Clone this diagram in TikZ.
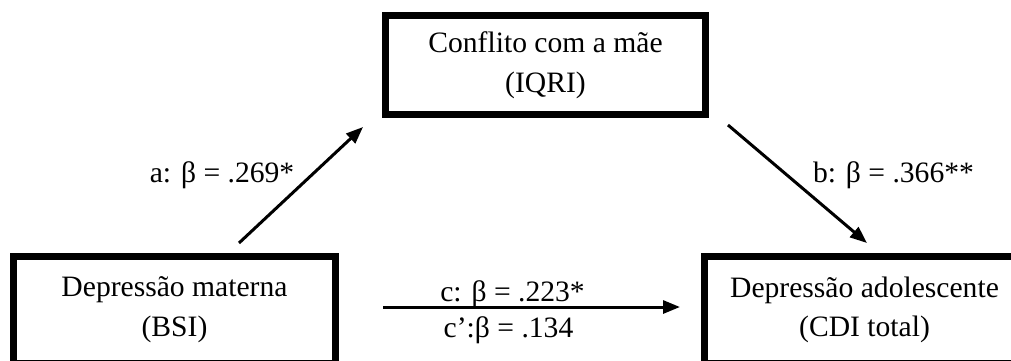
\documentclass[tikz,border=0pt]{standalone}
\usepackage{fontspec}
\setmainfont{Liberation Serif}
\usetikzlibrary{arrows.meta}
\begin{document}
\begin{tikzpicture}[x=1pt,y=-1pt,
  every node/.style={font=\fontsize{29.6}{39.5}\selectfont},
  varbox/.style={draw, line width=7pt, align=center, inner sep=0pt,
                 minimum width=320pt, minimum height=#1},
  effect/.style={line width=3pt, -{Triangle[length=17pt,width=13pt]}},
  coef/.style={anchor=base, inner sep=0pt}
]
\useasboundingbox (0,0) rectangle (1011,360);
\begin{scope}
  \clip (0,0) rectangle (1011,360);
  % variables
  \node[varbox=99pt]    (iqri) at (545.5,65)    {Conflito com a mãe\\(IQRI)};
  \node[varbox=106.5pt, minimum width=322pt] (bsi)  at (174.5,309.75) {Depressão materna\\(BSI)};
  \node[varbox=106.5pt] (cdi)  at (864.5,309.75) {Depressão adolescente\\(CDI total)};

  % arrow end points
  \coordinate (a0) at (239,243);
  \coordinate (a1) at (363,127);
  \coordinate (b0) at (728,125);
  \coordinate (b1) at (867,243);
  \coordinate (c0) at (383,307);
  \coordinate (c1) at (680,307);

  \draw[effect] (a0) -- (a1);
  \draw[effect] (b0) -- (b1);
  \draw[effect] (c0) -- (c1);

  % path coefficients
  \node[coef] (la)  at (222,182)   {a: β = .269*};
  \node[coef] (lb)  at (893.5,182) {b: β = .366**};
  \node[coef] (lc)  at (512.5,301) {c: β = .223*};
  \node[coef] (lcp) at (508.5,337) {c’:β = .134};
\end{scope}
\end{tikzpicture}
\end{document}
